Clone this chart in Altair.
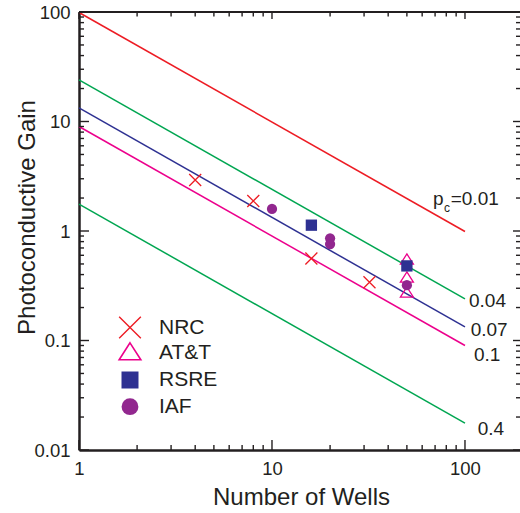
import altair as alt
import pandas as pd

# ---- data ----
pc_labels = ["0.01", "0.04", "0.07", "0.1", "0.4"]
line_colors = ["#ed1c24", "#00a651", "#2e3192", "#ec008c", "#00a651"]
wells_start = [1, 1, 1, 1, 1]
wells_end = [100, 100, 100, 100, 100]
gain_start = [99, 24, 13.3, 9.0, 1.76]
gain_end = [0.99, 0.24, 0.133, 0.09, 0.0176]

nrc_wells = [4, 8, 16, 32]
nrc_gain = [2.92, 1.88, 0.56, 0.34]
att_wells = [50, 50, 50]
att_gain = [0.555, 0.38, 0.277]
rsre_wells = [16, 50]
rsre_gain = [1.13, 0.48]
iaf_wells = [10, 20, 20, 50]
iaf_gain = [1.59, 0.857, 0.76, 0.32]

legend_labels = ["NRC", "AT&T", "RSRE", "IAF"]

x_major = [1, 10, 100]
x_minor = [2, 3, 4, 5, 6, 7, 8, 9, 20, 30, 40, 50, 60, 70, 80, 90]
y_major = [0.01, 0.1, 1, 10, 100]
y_minor = [0.02, 0.03, 0.04, 0.05, 0.06, 0.07, 0.08, 0.09,
           0.2, 0.3, 0.4, 0.5, 0.6, 0.7, 0.8, 0.9,
           2, 3, 4, 5, 6, 7, 8, 9,
           20, 30, 40, 50, 60, 70, 80, 90]

# ---- styling ----
FONT = "Liberation Sans"
INK = "#231f20"
RED, GREEN, BLUE, MAGENTA, PURPLE = "#ed1c24", "#00a651", "#2e3192", "#ec008c", "#92278f"
W, H = 441, 438
X_SHAPE = "M-1,-1L1,1M-1,1L1,-1"
TRI_SHAPE = "M0,-0.78L1,0.78L-1,0.78Z"

xscale = alt.Scale(type="log", domain=[1, 192.8], nice=False)
yscale = alt.Scale(type="log", domain=[0.01, 100], nice=False)

xaxis = alt.Axis(values=x_major, format="~g", ticks=False, tickSize=0, grid=False,
                 domainColor=INK, domainWidth=2.5, labelFont=FONT, labelFontSize=18.5,
                 labelColor=INK, labelPadding=9.5, labelFlush=False,
                 title="Number of Wells", titleFont=FONT, titleFontSize=24,
                 titleFontWeight="normal", titleColor=INK, titleY=54,
                 titleBaseline="alphabetic", titleX=222)
yaxis = alt.Axis(values=y_major, format="~g", ticks=False, tickSize=0, grid=False,
                 domainColor=INK, domainWidth=2.5, labelFont=FONT, labelFontSize=18.5,
                 labelColor=INK, labelPadding=9, labelFlush=False,
                 title="Photoconductive Gain", titleFont=FONT, titleFontSize=24,
                 titleFontWeight="normal", titleColor=INK, titleAngle=270,
                 titleAlign="center", titleBaseline="alphabetic", titleX=-45, titleY=205)


def X(field):
    return alt.X(field, type="quantitative", scale=xscale, axis=xaxis)


def Y(field):
    return alt.Y(field, type="quantitative", scale=yscale, axis=yaxis)


rows = []
for pc, n0, n1, g0, g1 in zip(pc_labels, wells_start, wells_end, gain_start, gain_end):
    rows.append({"pc": pc, "N": n0, "G": g0})
    rows.append({"pc": pc, "N": n1, "G": g1})
lines_df = pd.DataFrame(rows)

lines = alt.Chart(lines_df).mark_line(strokeWidth=1.5).encode(
    x=X("N"), y=Y("G"),
    color=alt.Color("pc:N", scale=alt.Scale(domain=pc_labels, range=line_colors), legend=None),
)

layers = [lines]


def xticks(vals, y0, y1):
    return alt.Chart(pd.DataFrame({"v": vals})).mark_rule(color=INK, strokeWidth=1.4).encode(
        x=X("v"), y=alt.value(y0), y2=alt.value(y1))


def yticks(vals, x0, x1):
    return alt.Chart(pd.DataFrame({"v": vals})).mark_rule(color=INK, strokeWidth=1.4).encode(
        y=Y("v"), x=alt.value(x0), x2=alt.value(x1))


layers += [
    xticks(x_major, H, H - 10), xticks(x_minor, H, H - 5),
    xticks(x_major, 0, 7), xticks(x_minor, 0, 4.5),
    yticks(y_major, 0, 10), yticks(y_minor, 0, 5),
    yticks(y_major, W, W - 7), yticks(y_minor, W, W - 4),
]

frame_top = alt.Chart(pd.DataFrame({"a": [0]})).mark_rule(color=INK, strokeWidth=2).encode(
    x=alt.value(0), x2=alt.value(W), y=alt.value(0))
layers.append(frame_top)

att = alt.Chart(pd.DataFrame({"N": att_wells, "G": att_gain})).mark_point(
    shape=TRI_SHAPE, filled=False, color=MAGENTA, strokeWidth=1.3, size=169, opacity=1
).encode(x=X("N"), y=Y("G"))
rsre = alt.Chart(pd.DataFrame({"N": rsre_wells, "G": rsre_gain})).mark_point(
    shape="square", filled=True, color=BLUE, size=128, opacity=1
).encode(x=X("N"), y=Y("G"))
iaf = alt.Chart(pd.DataFrame({"N": iaf_wells, "G": iaf_gain})).mark_point(
    shape="circle", filled=True, color=PURPLE, size=105, opacity=1
).encode(x=X("N"), y=Y("G"))
nrc = alt.Chart(pd.DataFrame({"N": nrc_wells, "G": nrc_gain})).mark_point(
    shape=X_SHAPE, filled=False, color=RED, strokeWidth=1.3, size=144, opacity=1
).encode(x=X("N"), y=Y("G"))
layers += [att, rsre, iaf, nrc]

# ---- legend (manual) ----
one = pd.DataFrame({"a": [0]})
leg_marks = [
    alt.Chart(one).mark_point(shape=X_SHAPE, filled=False, color=RED, strokeWidth=1.4,
                              size=470, opacity=1).encode(x=alt.value(51), y=alt.value(315.5)),
    alt.Chart(one).mark_point(shape=TRI_SHAPE, filled=False, color=MAGENTA, strokeWidth=1.6,
                              size=470, opacity=1).encode(x=alt.value(51), y=alt.value(339.3)),
    alt.Chart(one).mark_point(shape="square", filled=True, color=BLUE,
                              size=289, opacity=1).encode(x=alt.value(51), y=alt.value(368)),
    alt.Chart(one).mark_point(shape="circle", filled=True, color=PURPLE,
                              size=283, opacity=1).encode(x=alt.value(51), y=alt.value(394.7)),
]
layers += leg_marks
for lab, yy in zip(legend_labels, [315.5, 341, 368, 394.5]):
    layers.append(
        alt.Chart(pd.DataFrame({"t": [lab]})).mark_text(
            font=FONT, fontSize=21, color=INK, align="left", baseline="middle"
        ).encode(text="t:N", x=alt.value(80), y=alt.value(yy))
    )

# ---- line labels ----
line_label_pos = [("0.04", 390, 289), ("0.07", 391.7, 318), ("0.1", 395, 343), ("0.4", 398.7, 416.5)]
for lab, xx, yy in line_label_pos:
    layers.append(
        alt.Chart(pd.DataFrame({"t": [lab]})).mark_text(
            font=FONT, fontSize=19, color=INK, align="left", baseline="middle"
        ).encode(text="t:N", x=alt.value(xx), y=alt.value(yy))
    )
for txt, xx, yy, fs in [("p", 354, 193, 19), ("c", 365, 199.5, 12), ("=0.01", 371.7, 193, 19)]:
    layers.append(
        alt.Chart(pd.DataFrame({"t": [txt]})).mark_text(
            font=FONT, fontSize=fs, color=INK, align="left", baseline="alphabetic"
        ).encode(text="t:N", x=alt.value(xx), y=alt.value(yy))
    )

chart = alt.layer(*layers).properties(
    width=W, height=H,
    autosize=alt.AutoSizeParams(type="none"),
    padding={"left": 79, "right": 0, "top": 12, "bottom": 63},
    background="white",
).configure_view(stroke=None)

chart.save("out.html", embed_options={"renderer": "svg", "actions": False})
